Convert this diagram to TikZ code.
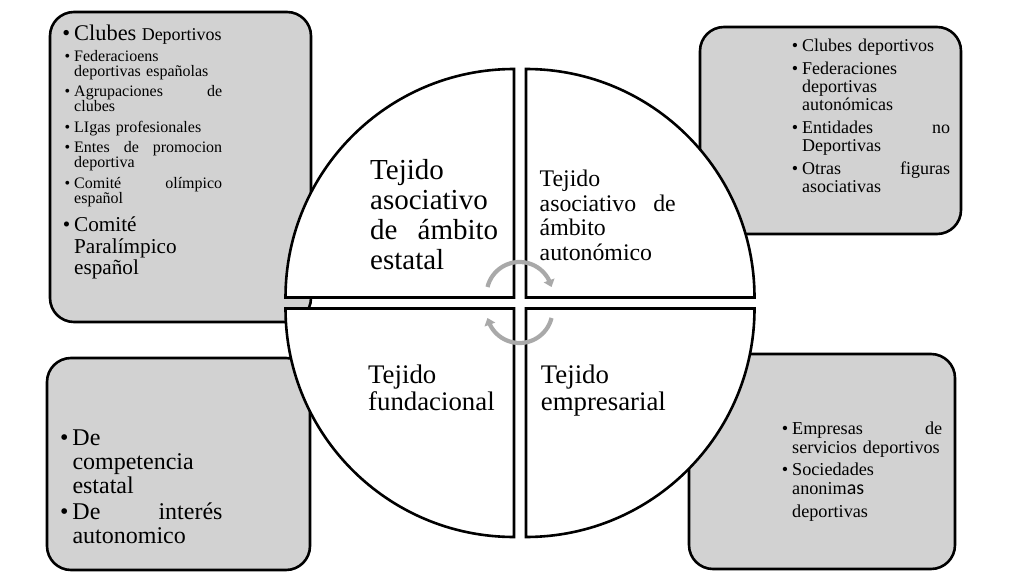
\documentclass[tikz,border=0pt]{standalone}
\usepackage{fontspec}
\setmainfont{Liberation Serif}
\newfontfamily\calib{Carlito}
\usetikzlibrary{arrows.meta,bending}
\definecolor{boxgray}{HTML}{D2D2D2}
\definecolor{cycgray}{HTML}{A9A9A9}
\setlength{\lineskiplimit}{-100pt}
\setlength{\normallineskiplimit}{-100pt}
\newcommand{\fs}[2]{\fontsize{#1}{#2}\selectfont}
\newcommand{\bul}{\leavevmode\llap{\textbullet\hspace{4pt}}}
\tikzset{
  box/.style={draw=black, line width=2.6pt, fill=boxgray, rounded corners=24pt},
  pie/.style={draw=black, line width=2.6pt, fill=white},
  cyc/.style={draw=cycgray, line width=4.2pt, -{Triangle[length=7pt,width=11pt,flex]}},
  txt/.style={anchor=base west, inner sep=0pt, align=left,
    execute at begin node={\lineskiplimit=-100pt}},
}
\begin{document}
\begin{tikzpicture}[x=1pt, y=-1pt]
  \useasboundingbox[fill=white] (0,0) rectangle (1019,577);
  % corner boxes
  \draw[box] (50,12) rectangle (311,322);
  \draw[box] (700,27) rectangle (961,234);
  \draw[box] (47,358) rectangle (310,570);
  \draw[box] (689,354) rectangle (955,569);

  % quarter circles
  \foreach \cx/\cy/\a in {514/297.5/180, 526/297.5/270, 526/308.5/0, 514/308.5/90}
    \draw[pie] (\cx,\cy) -- ++(\a:228.5) arc[start angle=\a, delta angle=90, radius=228.5] -- cycle;

  % cycle arrows
  \coordinate (cu) at (519.5,295);
  \coordinate (cl) at (519.5,310);
  \draw[cyc] ([shift={(194:33)}]cu) arc[start angle=194, end angle=346, radius=33];
  \draw[cyc] ([shift={(14:33)}]cl) arc[start angle=14, end angle=166, radius=33];

  % quarter titles
  \node[txt, text width=128pt, font=\fs{29}{30}] (estatal) at (370,180)
    {Tejido\\asociativo\\de\hfill ámbito\\estatal};
  \node[txt, text width=136pt, font=\fs{23.8}{24.5}] (autonomico) at (539.5,186.7)
    {Tejido\\asociativo\hfill de\\ámbito\\autonómico};
  \node[txt, text width=140pt, font=\fs{26.8}{27.7}] (fundacional) at (368,383)
    {Tejido\\fundacional};
  \node[txt, text width=140pt, font=\fs{26.8}{27.7}] (empresarial) at (540.7,383)
    {Tejido\\empresarial};

  % lists
  \node[txt, text width=148pt, font=\fs{16}{15}] (estatal-list) at (74,41) {%
    {\fs{22.4}{15}\bul Clubes} {\fs{18}{15}Deportivos}\\[5.5pt]
    \bul Federacioens\\deportivas españolas\\[5.5pt]
    \bul Agrupaciones\hfill de\\clubes\\[5.5pt]
    \bul LIgas profesionales\\[5.5pt]
    \bul Entes\hfill de\hfill promocion\\deportiva\\[5.5pt]
    \bul Comité\hfill olímpico\\español\\[13pt]
    \fs{21.2}{15}\bul Comité\\[7pt]Paralímpico\\[6pt]español};
  \node[txt, text width=148pt, font=\fs{18}{18}] (autonomico-list) at (802,52) {%
    \bul Clubes deportivos\\[5pt]
    \bul Federaciones\\deportivas\\autonómicas\\[5pt]
    \bul Entidades\hfill no\\Deportivas\\[5pt]
    \bul Otras\hfill figuras\\asociativas};
  \node[txt, text width=150pt, font=\fs{24}{24}] (fundacional-list) at (72.3,445) {%
    \bul De\\competencia\\estatal\\[2.5pt]
    \bul De\hfill interés\\autonomico};
  \node[txt, text width=150pt, font=\fs{18.2}{19}] (empresarial-list) at (792,434) {%
    \bul Empresas\hfill de\\servicios deportivos\\[3pt]
    \bul Sociedades\\anonim{\calib\fs{20}{19}as}\\[4pt]
    deportivas};
\end{tikzpicture}
\end{document}
